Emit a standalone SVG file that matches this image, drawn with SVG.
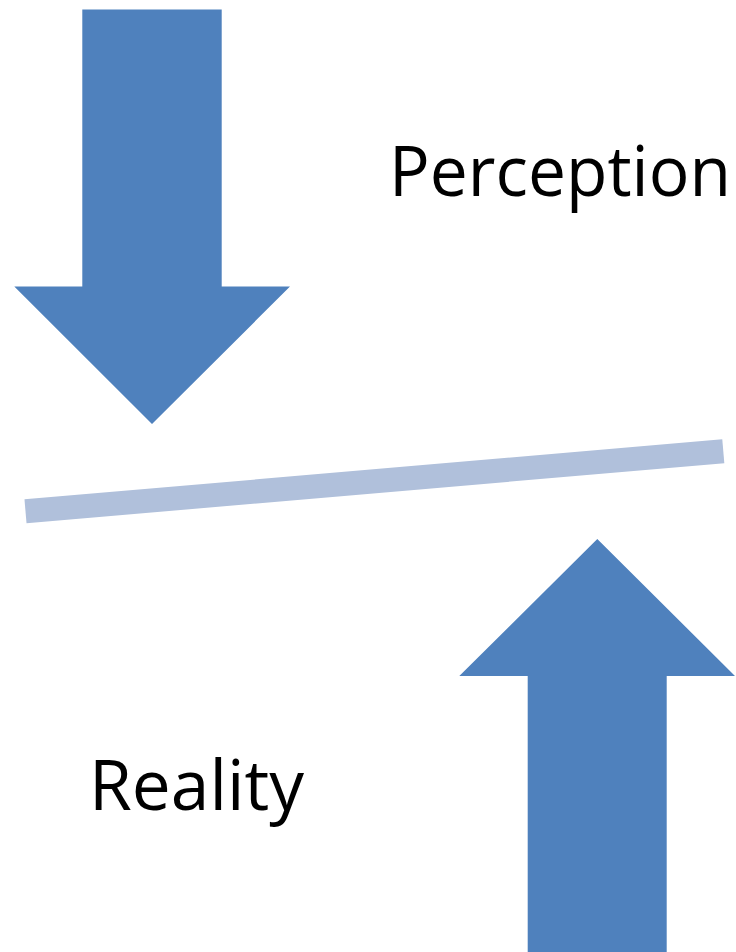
<svg xmlns="http://www.w3.org/2000/svg" width="736" height="952" viewBox="0 0 736 952">
  <style>
    .arrow { fill: #4F81BD; }
    .bar { stroke: #B0C0DB; stroke-width: 24; stroke-linecap: butt; fill: none; }
    .label { font-family: "Open Sans", "Liberation Sans", sans-serif; font-size: 69px; fill: #000000; }
  </style>
  <rect width="736" height="952" fill="#FFFFFF"/>
  <g id="arrow-down">
    <polygon class="arrow" points="82.3,9.5 221.7,9.5 221.7,286.5 290,286.5 152,424 14.3,286.5 82.3,286.5"/>
  </g>
  <g id="arrow-up">
    <polygon class="arrow" points="597.3,539 735,676 666.7,676 666.7,952 527.7,952 527.7,676 459.3,676"/>
  </g>
  <g id="connectors">
    <line class="bar" x1="25.5" y1="511.3" x2="723.3" y2="451.3"/>
  </g>
  <g id="label-perception">
    <text class="label" x="389" y="196" textLength="342" lengthAdjust="spacingAndGlyphs">Perception</text>
  </g>
  <g id="label-reality">
    <text class="label" x="89" y="810" textLength="215" lengthAdjust="spacingAndGlyphs">Reality</text>
  </g>
</svg>
